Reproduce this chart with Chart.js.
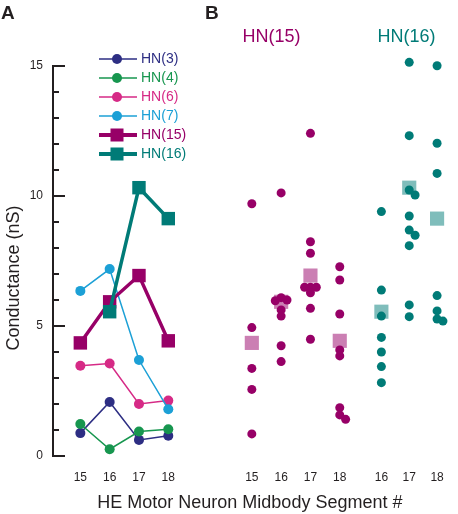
<!DOCTYPE html>
<html><head><meta charset="utf-8">
<script src="https://cdn.jsdelivr.net/npm/chart.js@4/dist/chart.umd.min.js"></script>
<style>html,body{margin:0;padding:0;background:#fff;overflow:hidden}canvas{display:block}</style>
</head><body>
<canvas id="c" width="458" height="514"></canvas>
<script>
// ---------------- DATA ----------------
const SEGMENTS = [15, 16, 17, 18];
const HN3  = [0.88, 2.08, 0.62, 0.78];
const HN4  = [1.23, 0.26, 0.94, 1.03];
const HN6  = [3.47, 3.56, 2.00, 2.13];
const HN7  = [6.35, 7.19, 3.69, 1.80];
const HN15_MEAN = [4.35, 5.93, 6.94, 4.43];
const HN16_MEAN = [null, 5.55, 10.32, 9.13];

const HN15_SEGMENTS = [15, 16, 17, 18];
const HN15_CELLS = [
  [9.70, 4.94, 3.37, 2.56, 0.85],
  [10.12, 6.09, 6.00, 5.97, 5.62, 5.38, 4.24, 3.63],
  [12.41, 8.24, 7.80, 6.49, 6.49, 6.49, 6.28, 5.68, 4.49],
  [7.28, 6.77, 5.46, 4.08, 3.85, 1.86, 1.58, 1.41]
];
const HN16_SEGMENTS = [16, 17, 18];
const HN16_CELLS = [
  [9.40, 6.38, 5.38, 4.56, 4.00, 3.44, 2.82],
  [15.14, 12.32, 10.23, 10.04, 9.23, 8.69, 8.49, 8.09, 5.81, 5.36],
  [15.01, 12.03, 10.87, 6.17, 5.58, 5.27, 5.19]
];
const Y_TICKS = [0, 5, 10, 15];

// ---------------- LAYOUT / STYLE ----------------
const FONT = "'Liberation Sans', Arial, Helvetica, sans-serif";
const INK = '#231f20';
const C = { hn3: '#2d2e83', hn4: '#17964f', hn6: '#d62a86', hn7: '#1ca0d6', hn15: '#970067', hn16: '#007b77' };
const SLOT_A = s => (s - 15);
const SLOT_B15 = s => 5.85 + (s - 15);
const SLOT_B16 = s => 10.27 + (s - 16) * 0.95;
const PX_X = 30, PX_Y = 26, STEP_PX = 6, MIN_PX = 5.3;

function swarm(values, xc) {
  const placed = [];
  const tries = [0, 1, -1, 2, -2, 3, -3];
  return values.map(v => {
    for (const k of tries) {
      const px = k * STEP_PX;
      if (placed.every(p => Math.hypot(p.px - px, (p.v - v) * PX_Y) >= MIN_PX)) {
        placed.push({ px, v });
        return { x: xc + px / PX_X, y: v };
      }
    }
  });
}

const X_TICKS = [
  ...SEGMENTS.map(s => ({ x: SLOT_A(s), label: String(s) })),
  ...HN15_SEGMENTS.map(s => ({ x: SLOT_B15(s), label: String(s) })),
  ...HN16_SEGMENTS.map(s => ({ x: SLOT_B16(s), label: String(s) }))
];

function lineSeries(label, arr, color, thick, order) {
  return {
    label, legendRow: true, showLine: true, order, clip: false,
    data: SEGMENTS.map((s, i) => ({ x: SLOT_A(s), y: arr[i] })).filter(p => p.y !== null),
    borderColor: color, backgroundColor: color,
    borderWidth: thick ? 3.5 : 1.5,
    pointStyle: thick ? 'rect' : 'circle',
    pointRadius: thick ? 9.5 : 5,
    pointBorderWidth: 0, tension: 0
  };
}

const datasets = [
  lineSeries('HN(3)', HN3, C.hn3, false, 7),
  lineSeries('HN(4)', HN4, C.hn4, false, 6),
  lineSeries('HN(6)', HN6, C.hn6, false, 5),
  lineSeries('HN(7)', HN7, C.hn7, false, 4),
  lineSeries('HN(15)', HN15_MEAN, C.hn15, true, 3),
  lineSeries('HN(16)', HN16_MEAN, C.hn16, true, 2),
  {
    label: 'HN(15) mean B', order: 1, clip: false, showLine: false,
    data: HN15_SEGMENTS.map((s, i) => ({ x: SLOT_B15(s), y: HN15_MEAN[i] })),
    pointStyle: 'rect', pointRadius: 10, pointBorderWidth: 0,
    backgroundColor: 'rgba(151,0,103,0.5)', borderColor: 'rgba(151,0,103,0.5)'
  },
  {
    label: 'HN(16) mean B', order: 1, clip: false, showLine: false,
    data: HN16_SEGMENTS.map((s, i) => ({ x: SLOT_B16(s), y: HN16_MEAN[i + 1] })),
    pointStyle: 'rect', pointRadius: 10, pointBorderWidth: 0,
    backgroundColor: 'rgba(0,123,119,0.5)', borderColor: 'rgba(0,123,119,0.5)'
  },
  {
    label: 'HN(15) cells', order: 0, clip: false, showLine: false,
    data: HN15_SEGMENTS.flatMap((s, i) => swarm(HN15_CELLS[i], SLOT_B15(s))),
    pointStyle: 'circle', pointRadius: 4.5, pointBorderWidth: 0,
    backgroundColor: C.hn15, borderColor: C.hn15
  },
  {
    label: 'HN(16) cells', order: 0, clip: false, showLine: false,
    data: HN16_SEGMENTS.flatMap((s, i) => swarm(HN16_CELLS[i], SLOT_B16(s))),
    pointStyle: 'circle', pointRadius: 4.5, pointBorderWidth: 0,
    backgroundColor: C.hn16, borderColor: C.hn16
  }
];

// ---------------- PLUGINS ----------------
const yTickMarks = {
  id: 'yTickMarks',
  afterDraw(chart) {
    const y = chart.scales.y, ctx = chart.ctx;
    ctx.save();
    ctx.strokeStyle = INK; ctx.lineWidth = 2;
    for (let v = 0; v <= 15; v++) {
      const py = Math.round(y.getPixelForValue(v));
      const len = v % 5 === 0 ? 12 : 6;
      ctx.beginPath(); ctx.moveTo(y.right - 1, py); ctx.lineTo(y.right + len, py); ctx.stroke();
    }
    ctx.restore();
  }
};

const insetLegend = {
  id: 'insetLegend',
  afterDraw(chart) {
    const ctx = chart.ctx;
    ctx.save();
    let row = 0;
    chart.data.datasets.forEach(ds => {
      if (!ds.legendRow) return;
      const cy = 59 + row * 19; row++;
      ctx.strokeStyle = ds.borderColor; ctx.lineWidth = ds.borderWidth === 1.5 ? 1.5 : 4;
      ctx.beginPath(); ctx.moveTo(99, cy); ctx.lineTo(137, cy); ctx.stroke();
      ctx.fillStyle = ds.backgroundColor;
      if (ds.pointStyle === 'rect') { ctx.fillRect(117 - 6.5, cy - 6.5, 13, 13); }
      else { ctx.beginPath(); ctx.arc(117, cy, 5, 0, Math.PI * 2); ctx.fill(); }
      ctx.font = '14px ' + FONT; ctx.textBaseline = 'middle'; ctx.textAlign = 'left';
      ctx.fillStyle = ds.borderColor;
      ctx.fillText(ds.label, 141, cy + 0.5);
    });
    ctx.restore();
  }
};

const panelText = {
  id: 'panelText',
  afterDraw(chart) {
    const ctx = chart.ctx;
    ctx.save();
    ctx.fillStyle = INK; ctx.font = 'bold 19px ' + FONT; ctx.textBaseline = 'alphabetic'; ctx.textAlign = 'left';
    ctx.fillText('A', 1, 18.5);
    ctx.fillText('B', 205, 18.5);
    ctx.font = '18px ' + FONT;
    ctx.fillStyle = C.hn15; ctx.fillText('HN(15)', 242.5, 41.5);
    ctx.fillStyle = C.hn16; ctx.fillText('HN(16)', 377.5, 41.5);
    ctx.translate(14, 278); ctx.rotate(-Math.PI / 2);
    ctx.fillStyle = INK; ctx.textAlign = 'center'; ctx.textBaseline = 'middle';
    ctx.fillText('Conductance (nS)', 0, 0);
    ctx.restore();
  }
};

Chart.defaults.font.family = FONT;
Chart.defaults.color = INK;

new Chart(document.getElementById('c'), {
  type: 'scatter',
  data: { datasets },
  options: {
    responsive: false, animation: false, events: [],
    layout: { padding: { top: 66, left: 0, right: 2, bottom: 0 } },
    plugins: { legend: { display: false }, tooltip: { enabled: false } },
    scales: {
      x: {
        type: 'linear', min: -0.933, max: 12.5,
        afterFit: s => { s.height = 58; },
        afterBuildTicks: s => { s.ticks = X_TICKS.map(t => ({ value: t.x })); },
        ticks: {
          autoSkip: false, maxRotation: 0, minRotation: 0, padding: 14,
          font: { size: 12 }, color: INK,
          callback: v => { let best = X_TICKS[0]; X_TICKS.forEach(t => { if (Math.abs(t.x - v) < Math.abs(best.x - v)) best = t; }); return best.label; }
        },
        grid: { display: false, drawTicks: false },
        border: { display: false },
        title: { display: true, text: 'HE Motor Neuron Midbody Segment #', font: { size: 18 }, color: INK, padding: { top: 0, bottom: 0 } }
      },
      y: {
        type: 'linear', min: 0, max: 15,
        afterFit: s => { s.width = 53; },
        afterBuildTicks: s => { s.ticks = Y_TICKS.map(v => ({ value: v })); },
        ticks: { padding: 10, font: { size: 12 }, color: INK },
        grid: { display: false, drawTicks: false },
        border: { display: true, color: INK, width: 2 }
      }
    }
  },
  plugins: [yTickMarks, insetLegend, panelText]
});
</script>
</body></html>
